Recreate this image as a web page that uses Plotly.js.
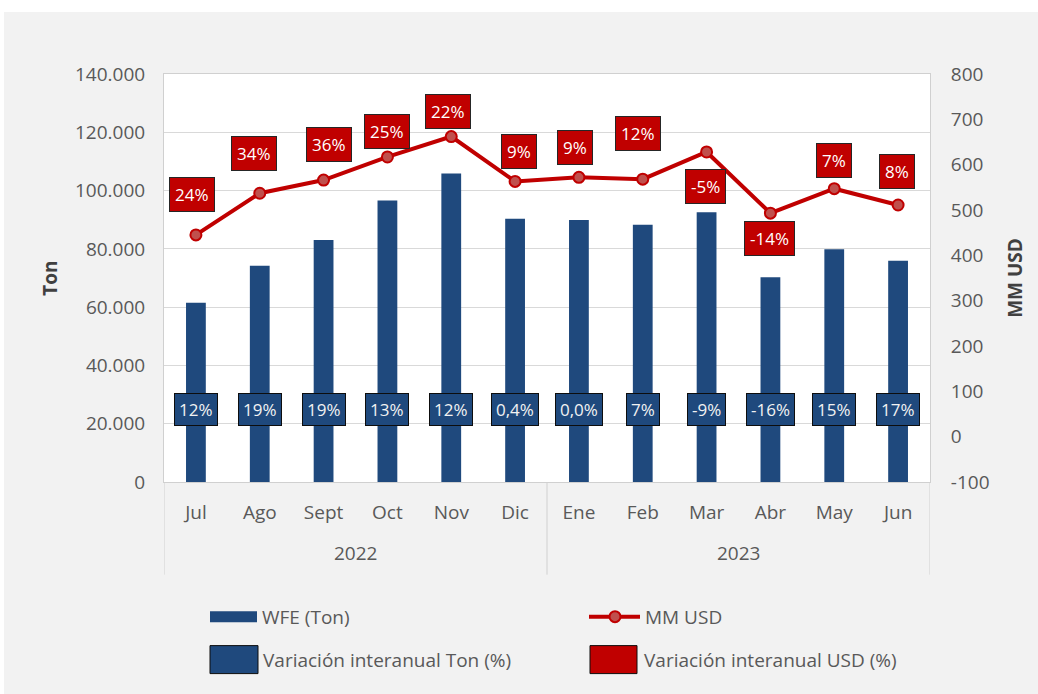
<!DOCTYPE html>
<html>
<head>
<meta charset="utf-8">
<script src="https://cdn.plot.ly/plotly-3.0.1.min.js"></script>
<style>
  html, body { margin: 0; padding: 0; background: #ffffff; }
  #chart { position: absolute; left: 4px; top: 12px; width: 1034px; height: 682px; }
</style>
</head>
<body>
<div id="chart"></div>
<script>
// ---- data ----
const years = ['2022', '2023'];
const yearSpan = [[0, 5], [6, 11]];   // month index range of each year group
const months = ['Jul','Ago','Sept','Oct','Nov','Dic','Ene','Feb','Mar','Abr','May','Jun'];
const wfeTon = [61500, 74200, 83000, 96600, 105900, 90300, 89900, 88300, 92600, 70300, 79900, 75900];
const mmUsd = [445, 537, 566, 617, 662, 563, 572, 568, 628, 493, 547, 511];
const varTon = ['12%','19%','19%','13%','12%','0,4%','0,0%','7%','-9%','-16%','15%','17%'];
const varUsd = ['24%','34%','36%','25%','22%','9%','9%','12%','-5%','-14%','7%','8%'];
const leftTicks = [0, 20000, 40000, 60000, 80000, 100000, 120000, 140000];
const rightTicks = [-100, 0, 100, 200, 300, 400, 500, 600, 700, 800];

// ---- label placement (pixel offsets, style only) ----
const usdLabelShiftY = [40, 40, 36, 25, 25, 30, 30, 46, -35, -25, 28, 34];
const usdLabelShiftX = [-4, -6, 5, 0, -3, 4, -4, -5, -1, -1, 0, -1];
const tonLabelLevel = 25000;

const BLUE = '#1f497d';
const RED = '#c00000';
const TXT = '#595959';
const FONT = 'Open Sans, Noto Sans, sans-serif';
const GRIDC = '#d9d9d9';
const LINEC = '#d0d0d0';

const bars = {
  type: 'bar', x: months, y: wfeTon, name: 'WFE (Ton)',
  marker: { color: BLUE }, width: 0.31, yaxis: 'y', showlegend: false, hoverinfo: 'skip'
};
const line = {
  type: 'scatter', mode: 'lines+markers', x: months, y: mmUsd, name: 'MM USD',
  yaxis: 'y2', line: { color: RED, width: 4 },
  marker: { size: 11, color: '#c0504d', line: { color: RED, width: 2 } },
  showlegend: false, hoverinfo: 'skip'
};

// page pixel -> paper coords helpers (for legend / axis decoration only)
const PX0 = 164, PW = 766, PY0 = 482.3, PH = 408.2;
const px = v => (v - PX0) / PW;
const py = v => (PY0 - v) / PH;

const annotations = [];
months.forEach((m, i) => {
  annotations.push({
    xref: 'x', yref: 'y', x: i, y: tonLabelLevel, text: varTon[i], showarrow: false,
    bgcolor: BLUE, bordercolor: '#0d0d0d', borderwidth: 1, borderpad: 4,
    font: { family: FONT, size: 17, color: '#f2f2f2' }
  });
  annotations.push({
    xref: 'x', yref: 'y2', x: i, y: mmUsd[i], text: varUsd[i], showarrow: false,
    yshift: usdLabelShiftY[i], xshift: usdLabelShiftX[i],
    bgcolor: RED, bordercolor: '#262626', borderwidth: 1, borderpad: 5,
    font: { family: FONT, size: 17, color: '#ffffff' }
  });
});

const shapes = [];
// year group labels and dividers
years.forEach((yr, k) => {
  const mid = (yearSpan[k][0] + yearSpan[k][1]) / 2;
  annotations.push({
    xref: 'x', yref: 'paper', x: mid, y: py(553), yanchor: 'middle', text: yr, showarrow: false,
    font: { family: FONT, size: 19, color: TXT }
  });
});
[-0.5, 5.5, 11.5].forEach(xv => shapes.push({
  type: 'line', xref: 'x', yref: 'paper', x0: xv, x1: xv, y0: 0, y1: py(575),
  line: { color: LINEC, width: 1 }
}));

// custom legend
shapes.push(
  { type: 'rect', xref: 'paper', yref: 'paper', x0: px(210), x1: px(257), y0: py(622.5), y1: py(611.5),
    fillcolor: BLUE, line: { width: 0 } },
  { type: 'line', xref: 'paper', yref: 'paper', x0: px(589), x1: px(640), y0: py(617), y1: py(617),
    line: { color: RED, width: 4 } },
  { type: 'circle', xref: 'paper', yref: 'paper', x0: px(609.5), x1: px(620.5), y0: py(622.5), y1: py(611.5),
    fillcolor: '#c0504d', line: { color: RED, width: 2 } },
  { type: 'rect', xref: 'paper', yref: 'paper', x0: px(210), x1: px(258), y0: py(674), y1: py(646),
    fillcolor: BLUE, line: { color: '#0d0d0d', width: 1 } },
  { type: 'rect', xref: 'paper', yref: 'paper', x0: px(590), x1: px(637), y0: py(674), y1: py(646),
    fillcolor: RED, line: { color: '#0d0d0d', width: 1 } }
);
const legendText = [
  ['WFE (Ton)', 260, 617], ['MM USD', 643, 617],
  ['Variación interanual Ton (%)', 261, 660], ['Variación interanual USD (%)', 642, 660]
];
legendText.forEach(t => annotations.push({
  xref: 'paper', yref: 'paper', x: px(t[1]), y: py(t[2]), xanchor: 'left', yanchor: 'middle',
  text: t[0], showarrow: false, font: { family: FONT, size: 19, color: TXT }
}));

const layout = {
  width: 1034, height: 682,
  margin: { l: 160, r: 108, t: 62, b: 212 },
  paper_bgcolor: '#f2f2f2', plot_bgcolor: '#ffffff',
  separators: ',.',
  font: { family: FONT, size: 19, color: TXT },
  showlegend: false,
  bargap: 0.69,
  xaxis: {
    type: 'category', range: [-0.5, 11.5], showgrid: false, ticks: '',
    showline: true, linecolor: LINEC, linewidth: 1, mirror: true,
    ticklabelstandoff: 13,
    tickfont: { family: FONT, size: 19, color: TXT }
  },
  yaxis: {
    range: [0, 140000], tickvals: leftTicks, tickformat: ',d',
    showgrid: true, gridcolor: GRIDC, gridwidth: 1, zeroline: false,
    showline: true, linecolor: LINEC, linewidth: 1, ticks: '', ticklabelstandoff: 14,
    title: { text: 'Ton', standoff: 12, font: { family: FONT, size: 19, color: '#404040', weight: 'bold' } },
    tickfont: { family: FONT, size: 19, color: TXT }
  },
  yaxis2: {
    overlaying: 'y', side: 'right', range: [-100, 800],
    tickmode: 'array', tickvals: rightTicks, ticktext: rightTicks.map(String),
    showgrid: false, zeroline: false, showline: true, linecolor: LINEC, ticks: '', ticklabelstandoff: 16,
    title: { text: 'MM USD', standoff: 20, font: { family: FONT, size: 19, color: '#404040', weight: 'bold' } },
    tickfont: { family: FONT, size: 19, color: TXT }
  },
  annotations: annotations,
  shapes: shapes
};

Plotly.newPlot('chart', [bars, line], layout, { displayModeBar: false, staticPlot: true });
</script>
</body>
</html>
